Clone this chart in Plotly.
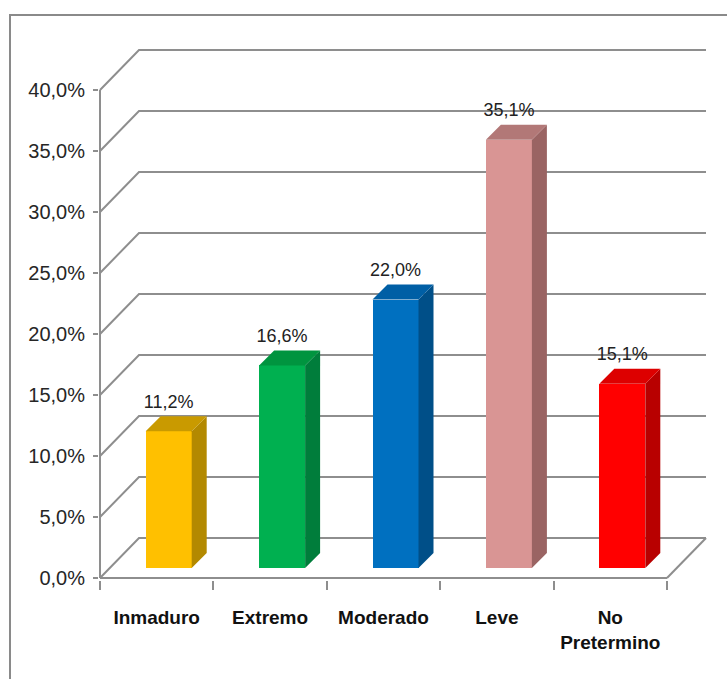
import plotly.graph_objects as go

# ---- data ----
categories = ["Inmaduro", "Extremo", "Moderado", "Leve", "No<br>Pretermino"]
values = [11.2, 16.6, 22.0, 35.1, 15.1]
y_ticks = [0, 5, 10, 15, 20, 25, 30, 35, 40]
y_tick_labels = [f"{v:.1f}%".replace(".", ",") for v in y_ticks]

front_colors = ["#FFC000", "#00B050", "#0070C0", "#D99594", "#FF0000"]
side_colors = ["#B38900", "#007D3B", "#004F88", "#9A6463", "#B80000"]
top_colors = ["#C99A00", "#00943F", "#005FA5", "#B27877", "#DD0000"]

# ---- pseudo-3D geometry (pixel sizes converted to axis units) ----
PX_X = 113.4          # pixels per category
PX_Y = 12.2           # pixels per percentage point
WALL_DX, WALL_DY = 39 / PX_X, 40 / PX_Y      # depth of the back wall
SHIFT_DX, SHIFT_DY = 12 / PX_X, 10 / PX_Y    # bars sit inside the box
DEPTH_DX, DEPTH_DY = 15 / PX_X, 15 / PX_Y    # bar thickness
BAR_W = 46 / PX_X
LABEL_GAP = 13 / PX_Y

W, H = 727, 679
ML, MR, MT, MB = 99, 15, 46, 99
plot_w, plot_h = W - ML - MR, H - MT - MB
x_min = -1 / PX_X
x_max = x_min + plot_w / PX_X
y_min = -2 / PX_Y
y_max = y_min + plot_h / PX_Y

n = len(categories)
centers = [i + 0.5 for i in range(n)]
GRID = "#8E8E8E"
FONT = "Liberation Sans, Arial, sans-serif"

fig = go.Figure()

# back-wall gridlines with their diagonal connectors
gx, gy = [], []
for v in y_ticks:
    gx += [0, WALL_DX, n + WALL_DX, None]
    gy += [v, v + WALL_DY, v + WALL_DY, None]
# floor: right diagonal, front edge and front value axis
gx += [n + WALL_DX, n, None, 0, n, None, 0, 0]
gy += [WALL_DY, 0, None, 0, 0, None, 0, y_ticks[-1]]
fig.add_trace(go.Scatter(x=gx, y=gy, mode="lines", xaxis="x", yaxis="y",
                         line=dict(color=GRID, width=2), hoverinfo="skip",
                         showlegend=False))

# bar front faces
bar_x = [c + SHIFT_DX for c in centers]
fig.add_trace(go.Bar(x=bar_x, y=values, base=SHIFT_DY, width=BAR_W,
                     xaxis="x2", yaxis="y2",
                     marker=dict(color=front_colors, line=dict(width=0)),
                     showlegend=False))

# side and top faces
for i, v in enumerate(values):
    xl = bar_x[i] - BAR_W / 2
    xr = bar_x[i] + BAR_W / 2
    b = SHIFT_DY
    t = SHIFT_DY + v
    fig.add_trace(go.Scatter(
        x=[xr, xr + DEPTH_DX, xr + DEPTH_DX, xr, xr],
        y=[b, b + DEPTH_DY, t + DEPTH_DY, t, b],
        mode="lines", fill="toself", fillcolor=side_colors[i],
        line=dict(width=0, color=side_colors[i]),
        xaxis="x2", yaxis="y2", hoverinfo="skip", showlegend=False))
    fig.add_trace(go.Scatter(
        x=[xl, xl + DEPTH_DX, xr + DEPTH_DX, xr, xl],
        y=[t, t + DEPTH_DY, t + DEPTH_DY, t, t],
        mode="lines", fill="toself", fillcolor=top_colors[i],
        line=dict(width=0, color=top_colors[i]),
        xaxis="x2", yaxis="y2", hoverinfo="skip", showlegend=False))

# value labels
fig.add_trace(go.Scatter(
    x=bar_x,
    y=[SHIFT_DY + v + DEPTH_DY + LABEL_GAP for v in values],
    customdata=values,
    mode="text", texttemplate="%{customdata:.1f}%", textposition="middle center",
    textfont=dict(family=FONT, size=18, color="#222222"),
    xaxis="x2", yaxis="y2", hoverinfo="skip", showlegend=False))

fig.update_layout(
    width=W, height=H,
    margin=dict(l=ML, r=MR, t=MT, b=MB),
    paper_bgcolor="white", plot_bgcolor="white",
    separators=",.",
    bargap=0,
    xaxis=dict(range=[x_min, x_max], tickmode="array", tickvals=centers,
               ticktext=[f"<b>{c}</b>" for c in categories], ticks="",
               ticklabelstandoff=24, showgrid=False, zeroline=False, showline=False,
               tickfont=dict(family=FONT, size=19, color="#111111")),
    yaxis=dict(range=[y_min, y_max], tickmode="array", tickvals=y_ticks,
               ticktext=y_tick_labels, ticks="outside", ticklen=5,
               tickwidth=1.5, tickcolor=GRID, ticklabelstandoff=4,
               showgrid=False, zeroline=False, showline=False,
               tickfont=dict(family=FONT, size=20, color="#262626")),
    xaxis2=dict(range=[x_min, x_max], overlaying="x", anchor="y2",
                tickmode="array", tickvals=list(range(n + 1)), ticks="outside",
                ticklen=9, tickwidth=1.5, tickcolor=GRID, showticklabels=False,
                showgrid=False, zeroline=False, showline=False),
    yaxis2=dict(range=[y_min, y_max], overlaying="y", anchor="x2",
                showticklabels=False, ticks="", showgrid=False,
                zeroline=False, showline=False),
    shapes=[dict(type="rect", xref="paper", yref="paper",
                 x0=(10 - ML) / plot_w, x1=(W + 20 - ML) / plot_w,
                 y0=-(H + 20 - MT - plot_h) / plot_h, y1=(MT + plot_h - 15) / plot_h,
                 line=dict(color="#8A8A8A", width=2), fillcolor="rgba(0,0,0,0)",
                 layer="below")],
)

fig.write_html("out.html")
